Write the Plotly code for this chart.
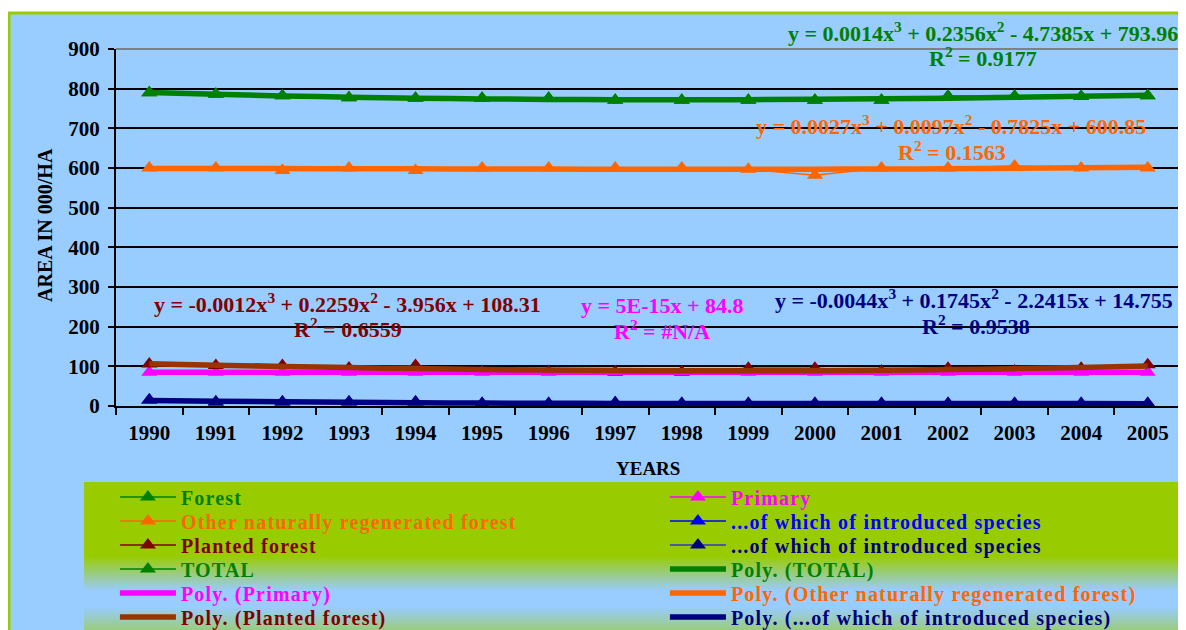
import numpy as np
import plotly.graph_objects as go

years = [str(y) for y in range(1990, 2006)]
forest = [790, 786, 782, 777, 776, 776, 776, 771, 771, 771, 771, 771, 781, 781, 780, 782]
other_nat = [600, 600, 594, 600, 594, 600, 600, 600, 600, 597, 582, 600, 600, 605, 600, 600]
planted = [106, 102, 102, 96, 102, 87, 87, 86, 86, 95, 95, 88, 95, 88, 95, 104]
primary = [84.8] * 16
introduced_a = [15, 10, 10, 10, 10, 6, 6, 8, 6, 6, 6, 6, 6, 6, 6, 6]
introduced_b = [15, 10, 10, 10, 10, 6, 6, 8, 6, 6, 6, 6, 6, 6, 6, 6]
total = [790, 786, 782, 777, 776, 776, 776, 771, 771, 771, 771, 771, 781, 781, 780, 782]

equations = [
    ("y = 0.0014x<sup>3</sup> + 0.2356x<sup>2</sup> - 4.7385x + 793.96", "R<sup>2</sup> = 0.9177", "#008000"),
    ("y = 0.0027x<sup>3</sup> + 0.0097x<sup>2</sup> - 0.7825x + 600.85", "R<sup>2</sup> = 0.1563", "#FF6600"),
    ("y = -0.0012x<sup>3</sup> + 0.2259x<sup>2</sup> - 3.956x + 108.31", "R<sup>2</sup> = 0.6559", "#800000"),
    ("y = 5E-15x + 84.8", "R<sup>2</sup> = #N/A", "#FF00FF"),
    ("y = -0.0044x<sup>3</sup> + 0.1745x<sup>2</sup> - 2.2415x + 14.755", "R<sup>2</sup> = 0.9538", "#000080"),
]

# the page body has an 8px margin; the figure is sized so that it ends at the window edge
OFF = 8
W, H = 1186 - OFF, 630 - OFF
ML, MR, MT, MB = 116 - OFF, 5, 49 - OFF, 224
PW, PH = W - ML - MR, H - MT - MB


def px(x):  # window pixel -> paper x
    return (x - OFF - ML) / PW


def py(y):  # window pixel -> paper y
    return (MT + PH - (y - OFF)) / PH


FONT = "Liberation Serif"
GREEN, ORANGE, DRED, MAG, BLUE, NAVY, BROWN = "#008000", "#FF6600", "#800000", "#FF00FF", "#0000FF", "#000080", "#993300"


def lbl(text, color):
    return f'<span style="color:{color};letter-spacing:1.2px">{text}</span>'


def trend(vals, deg):
    xs = np.arange(1, len(vals) + 1)
    c = np.polyfit(xs, vals, deg)
    return list(np.polyval(c, xs))


fig = go.Figure()
mk = dict(symbol="triangle-up", size=14)


def data_trace(y, name, lcolor, mcolor, tcolor, legend):
    fig.add_trace(go.Scatter(x=years, y=y, mode="lines+markers", name=lbl(name, tcolor),
                             line=dict(color=lcolor, width=1.5), marker=dict(color=mcolor, **mk),
                             legend=legend))


def poly_trace(y, deg, name, color, tcolor, legend):
    fig.add_trace(go.Scatter(x=years, y=trend(y, deg), mode="lines", name=lbl(name, tcolor),
                             line=dict(color=color, width=5.5, shape="spline"), legend=legend))


data_trace(forest, "Forest", GREEN, GREEN, GREEN, "legend")
data_trace(primary, "Primary", MAG, MAG, MAG, "legend")
data_trace(other_nat, "Other naturally regenerated forest", ORANGE, ORANGE, ORANGE, "legend2")
data_trace(introduced_a, "...of which of introduced species", BLUE, BLUE, BLUE, "legend2")
data_trace(planted, "Planted forest", DRED, DRED, DRED, "legend3")
data_trace(introduced_b, "...of which of introduced species", "#3333CC", NAVY, NAVY, "legend3")
data_trace(total, "TOTAL", GREEN, GREEN, GREEN, "legend4")
poly_trace(total, 3, "Poly. (TOTAL)", GREEN, GREEN, "legend4")
poly_trace(primary, 1, "Poly. (Primary)", MAG, MAG, "legend5")
poly_trace(other_nat, 3, "Poly. (Other naturally regenerated forest)", ORANGE, ORANGE, "legend5")
poly_trace(planted, 3, "Poly. (Planted forest)", BROWN, DRED, "legend6")
poly_trace(introduced_b, 3, "Poly. (...of which of introduced species)", NAVY, NAVY, "legend6")

# equation labels (window pixel positions)
eq_pos = [
    ((1180, 32, "right"), (983, 57)),
    ((951, 125, "center"), (952, 151)),
    ((347, 303, "center"), (348, 328)),
    ((662, 305, "center"), (662, 330)),
    ((974, 299, "center"), (976, 325)),
]
for (eq, r2, col), ((ex, ey, exa), (rx, ry)) in zip(equations, eq_pos):
    fig.add_annotation(x=px(ex), y=py(ey), xref="paper", yref="paper", text=eq, showarrow=False,
                       xanchor=exa, yanchor="middle", font=dict(family=FONT, size=22, color=col, weight="bold"))
    fig.add_annotation(x=px(rx), y=py(ry), xref="paper", yref="paper", text=r2, showarrow=False,
                       xanchor="center", yanchor="middle", font=dict(family=FONT, size=22, color=col, weight="bold"))

fig.add_annotation(x=px(45), y=py(225), xref="paper", yref="paper", text="AREA IN 000/HA", textangle=-90,
                   xanchor="center", yanchor="middle",
                   showarrow=False, font=dict(family=FONT, size=20, color="black", weight="bold"))
fig.add_annotation(x=px(648), y=py(468), xref="paper", yref="paper", text="YEARS",
                   xanchor="center", yanchor="middle",
                   showarrow=False, font=dict(family=FONT, size=19, color="black", weight="bold"))

shapes = []
# outer chart area
shapes.append(dict(type="rect", xref="paper", yref="paper", x0=px(9), x1=px(1200), y0=py(660), y1=py(13),
                   fillcolor="#99CCFF", line=dict(color="#99CC00", width=3), layer="below"))
# legend background gradient strips
for y in range(482, 632, 2):
    if y < 555:
        b = 0
    elif y < 590:
        b = int(255 * (y - 555) / 35)
    elif y < 606:
        b = 255
    else:
        b = int(255 - 135 * (y - 606) / 24)
    shapes.append(dict(type="rect", xref="paper", yref="paper", x0=px(84), x1=px(1181), y0=py(y + 2), y1=py(y),
                       fillcolor=f"rgb(153,204,{max(0, min(255, b))})", line=dict(width=0), layer="below"))
# top & right plot border (gray)
shapes.append(dict(type="line", xref="paper", yref="paper", x0=0, x1=1, y0=1, y1=1,
                   line=dict(color="#808080", width=2)))
shapes.append(dict(type="line", xref="paper", yref="paper", x0=1, x1=1, y0=0, y1=1,
                   line=dict(color="#808080", width=2)))

tickfont = dict(family=FONT, size=21, color="black", weight="bold")
legfont = dict(family=FONT, size=20, weight="bold")

row_y = [497, 521, 545, 569, 593, 617]
legends = {}
for i, ry in enumerate(row_y):
    key = "legend" if i == 0 else f"legend{i + 1}"
    legends[key] = dict(x=-0.001, y=py(ry), xanchor="left", yanchor="middle", orientation="h",
                        bgcolor="rgba(0,0,0,0)", font=legfont, itemwidth=56, entrywidth=479,
                        entrywidthmode="pixels", borderwidth=0)

fig.update_layout(
    width=W, height=H,
    margin=dict(l=ML, r=MR, t=MT, b=MB, autoexpand=False),
    paper_bgcolor="white",
    plot_bgcolor="#99CCFF",
    shapes=shapes,
    showlegend=True,
    xaxis=dict(type="category", range=[-0.5, 15.5], tickson="boundaries", ticks="outside", ticklen=7,
               tickcolor="black", tickwidth=1.5, showline=True, linecolor="black", linewidth=2,
               showgrid=False, tickfont=tickfont, ticklabelstandoff=7),
    yaxis=dict(range=[0, 900], dtick=100, ticks="outside", ticklen=6, tickcolor="black", tickwidth=1.5,
               showline=True, linecolor="black", linewidth=2, showgrid=True, gridcolor="black",
               gridwidth=1.5, zeroline=False, tickfont=tickfont, ticklabelstandoff=4),
    **legends,
)

fig.write_html("out.html")
